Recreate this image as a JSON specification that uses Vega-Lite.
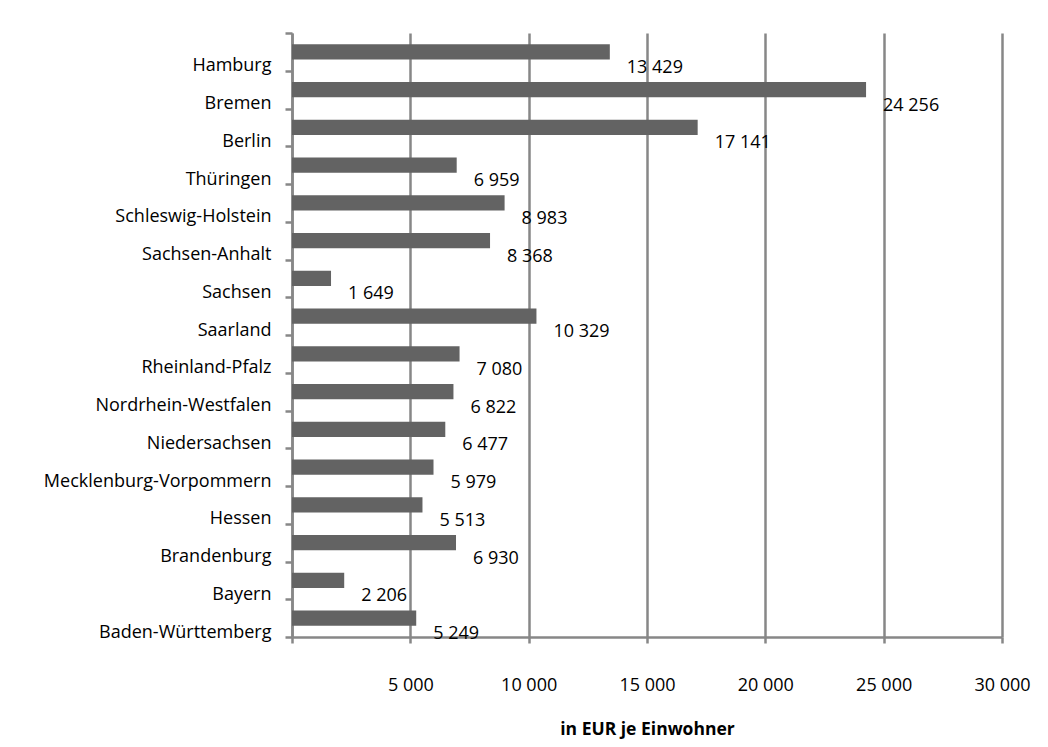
{
  "$schema": "https://vega.github.io/schema/vega-lite/v6.json",
  "width": 710,
  "height": 604,
  "autosize": "none",
  "padding": {"left": 292, "top": 33, "right": 46, "bottom": 110},
  "background": "white",
  "config": {
    "view": {"stroke": null},
    "font": "Open Sans",
    "axis": {"domainColor": "#878787", "domainWidth": 2.5, "tickColor": "#878787", "tickWidth": 2.5, "labelColor": "#000000", "titleColor": "#000000", "labelFont": "Open Sans", "titleFont": "Open Sans"}
  },
  "data": {
    "values": [
      {"land": "Hamburg", "wert": 13429, "label": "13 429"},
      {"land": "Bremen", "wert": 24256, "label": "24 256"},
      {"land": "Berlin", "wert": 17141, "label": "17 141"},
      {"land": "Thüringen", "wert": 6959, "label": "6 959"},
      {"land": "Schleswig-Holstein", "wert": 8983, "label": "8 983"},
      {"land": "Sachsen-Anhalt", "wert": 8368, "label": "8 368"},
      {"land": "Sachsen", "wert": 1649, "label": "1 649"},
      {"land": "Saarland", "wert": 10329, "label": "10 329"},
      {"land": "Rheinland-Pfalz", "wert": 7080, "label": "7 080"},
      {"land": "Nordrhein-Westfalen", "wert": 6822, "label": "6 822"},
      {"land": "Niedersachsen", "wert": 6477, "label": "6 477"},
      {"land": "Mecklenburg-Vorpommern", "wert": 5979, "label": "5 979"},
      {"land": "Hessen", "wert": 5513, "label": "5 513"},
      {"land": "Brandenburg", "wert": 6930, "label": "6 930"},
      {"land": "Bayern", "wert": 2206, "label": "2 206"},
      {"land": "Baden-Württemberg", "wert": 5249, "label": "5 249"}
    ]
  },
  "encoding": {
    "y": {
      "field": "land",
      "type": "nominal",
      "sort": null,
      "scale": {"paddingInner": 0, "paddingOuter": 0},
      "axis": {
        "title": null,
        "tickBand": "extent",
        "tickSize": 7,
        "labelPadding": 14,
        "labelOffset": 14,
        "labelFontSize": 18,
        "labelLimit": 400
      }
    },
    "x": {
      "field": "wert",
      "type": "quantitative",
      "scale": {"domain": [0, 30000], "nice": false},
      "axis": {
        "title": "in EUR je Einwohner",
        "titleFontSize": 17.5,
        "titleFontWeight": "bold",
        "titlePadding": 26,
        "values": [0, 5000, 10000, 15000, 20000, 25000, 30000],
        "labelExpr": "datum.value == 0 ? '' : replace(format(datum.value, ','), ',', ' ')",
        "grid": true,
        "gridColor": "#878787",
        "gridWidth": 2.5,
        "tickSize": 6,
        "labelPadding": 33,
        "labelFontSize": 18,
        "labelFlush": false
      }
    }
  },
  "layer": [
    {"mark": {"type": "bar", "color": "#636363", "height": {"band": 0.4}}},
    {
      "mark": {"type": "text", "align": "left", "baseline": "middle", "dx": 17, "dy": 16, "fontSize": 18, "color": "#000000"},
      "encoding": {"text": {"field": "label"}}
    }
  ]
}
